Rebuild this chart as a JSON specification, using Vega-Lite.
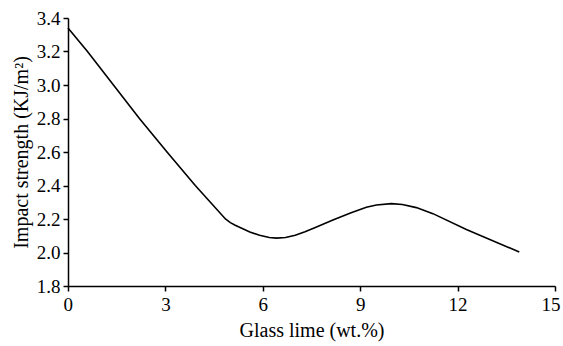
{
  "$schema": "https://vega.github.io/schema/vega-lite/v6.json",
  "autosize": {"type": "none"},
  "width": 487,
  "height": 268,
  "padding": {"left": 68, "top": 18, "right": 8, "bottom": 60},
  "background": "white",
  "config": {
    "view": {"stroke": null},
    "axis": {
      "grid": false,
      "domainColor": "black",
      "domainWidth": 1.5,
      "tickColor": "black",
      "tickWidth": 1.5,
      "tickSize": 5,
      "labelFont": "Liberation Serif",
      "labelFontSize": 19,
      "labelColor": "black",
      "titleFont": "Liberation Serif",
      "titleFontSize": 20,
      "titleFontWeight": "normal",
      "titleColor": "black"
    }
  },
  "data": {
    "values": [
      {"x": 0, "y": 3.34},
      {"x": 0.6, "y": 3.2},
      {"x": 1.4, "y": 3.0},
      {"x": 2.2, "y": 2.8},
      {"x": 3.05, "y": 2.6},
      {"x": 3.92, "y": 2.4},
      {"x": 4.85, "y": 2.2},
      {"x": 5.0, "y": 2.178},
      {"x": 5.15, "y": 2.163},
      {"x": 5.35, "y": 2.145},
      {"x": 5.6, "y": 2.122},
      {"x": 5.9, "y": 2.103},
      {"x": 6.2, "y": 2.09},
      {"x": 6.42, "y": 2.086},
      {"x": 6.7, "y": 2.09},
      {"x": 7.0, "y": 2.103},
      {"x": 7.3, "y": 2.124},
      {"x": 7.6, "y": 2.148},
      {"x": 8.16, "y": 2.194},
      {"x": 8.7, "y": 2.236},
      {"x": 9.19, "y": 2.27},
      {"x": 9.5, "y": 2.284},
      {"x": 9.96, "y": 2.292},
      {"x": 10.3, "y": 2.287},
      {"x": 10.73, "y": 2.268},
      {"x": 11.24, "y": 2.232},
      {"x": 12.27, "y": 2.137},
      {"x": 13.9, "y": 2.003}
    ]
  },
  "mark": {"type": "line", "color": "black", "strokeWidth": 1.6, "interpolate": "linear"},
  "encoding": {
    "x": {
      "field": "x", "type": "quantitative",
      "scale": {"domain": [0, 15], "nice": false, "zero": false},
      "axis": {"values": [0, 3, 6, 9, 12, 15], "title": "Glass lime (wt.%)", "labelPadding": 4, "titlePadding": 6, "labelFlush": true, "labelFlushOffset": 5}
    },
    "y": {
      "field": "y", "type": "quantitative",
      "scale": {"domain": [1.8, 3.4], "nice": false, "zero": false},
      "axis": {"values": [1.8, 2.0, 2.2, 2.4, 2.6, 2.8, 3.0, 3.2, 3.4], "format": ".1f", "title": "Impact strength (KJ/m²)", "labelPadding": 3, "titlePadding": 5, "labelFlush": false}
    }
  }
}
